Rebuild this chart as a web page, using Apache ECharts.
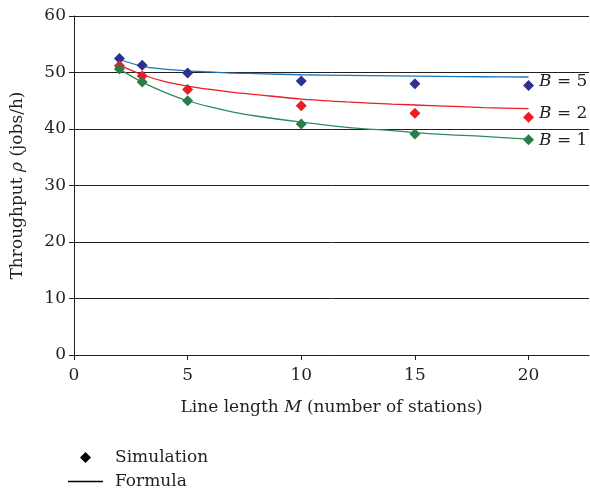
<!DOCTYPE html>
<html>
<head>
<meta charset="utf-8">
<script src="https://cdn.jsdelivr.net/npm/echarts@6/dist/echarts.min.js"></script>
<style>html,body{margin:0;padding:0;background:#fff}#c{width:590px;height:496px}</style>
</head>
<body>
<div id="c"></div>
<script>
const M = [2, 3, 5, 10, 15, 20];
const simB5 = [52.5, 51.3, 49.9, 48.5, 48.0, 47.7];
const simB2 = [51.2, 49.4, 47.0, 44.1, 42.8, 42.1];
const simB1 = [50.6, 48.3, 45.0, 40.9, 39.1, 38.1];
const formM = [2, 3, 4, 5, 6, 7, 8, 10, 12, 14, 16, 18, 20];
const formB5 = [52.3, 51.1, 50.6, 50.3, 50.1, 49.9, 49.8, 49.6, 49.5, 49.4, 49.3, 49.25, 49.2];
const formB2 = [51.3, 49.6, 48.4, 47.6, 47.0, 46.5, 46.1, 45.3, 44.8, 44.4, 44.1, 43.8, 43.6];
const formB1 = [50.6, 48.3, 46.5, 45.0, 43.9, 43.0, 42.3, 41.2, 40.3, 39.7, 39.1, 38.7, 38.2];
const xTicks = [0, 5, 10, 15, 20];
const yTicks = [0, 10, 20, 30, 40, 50, 60];
const seriesLabels = ['5', '2', '1'];

const FONT = '"DejaVu Serif", "Liberation Serif", serif';
const FS = 17;
const TXT = '#231f20';
const pair = (xs, ys) => xs.map((x, i) => [x, ys[i]]);

function simSeries(vals, color, labelText, dy) {
  const data = pair(M, vals).map((p, i, arr) => {
    if (i === arr.length - 1) {
      return {
        value: p,
        label: {
          show: true, position: 'right', distance: 5, offset: [0, dy],
          formatter: '{i|B} = ' + labelText,
          color: TXT, fontFamily: FONT, fontSize: FS,
          rich: { i: { fontStyle: 'italic', fontFamily: FONT, fontSize: FS, color: TXT } }
        }
      };
    }
    return { value: p };
  });
  return {
    type: 'scatter', symbol: 'diamond', symbolSize: 11,
    itemStyle: { color: color, opacity: 1 }, data: data, z: 5, silent: true
  };
}
function formSeries(vals, color) {
  return {
    type: 'line', data: pair(formM, vals), smooth: 0.3,
    showSymbol: false, lineStyle: { color: color, width: 1.3 }, z: 4, silent: true
  };
}

const chart = echarts.init(document.getElementById('c'), null, { renderer: 'canvas' });
chart.setOption({
  animation: false,
  backgroundColor: '#fff',
  grid: { left: 74, right: 1, top: 16, bottom: 141 },
  xAxis: {
    type: 'value', min: 0, max: 22.66,
    name: 'Line length {i|M} (number of stations)',
    nameLocation: 'middle', nameGap: 44,
    nameTextStyle: {
      color: TXT, fontFamily: FONT, fontSize: FS,
      rich: { i: { fontStyle: 'italic', fontFamily: FONT, fontSize: FS, color: TXT } }
    },
    axisLine: { show: true, lineStyle: { color: '#231f20', width: 1 } },
    axisTick: { show: true, inside: false, length: 5, customValues: xTicks, lineStyle: { color: '#231f20' } },
    axisLabel: { customValues: xTicks, margin: 12, color: TXT, fontFamily: FONT, fontSize: FS },
    splitLine: { show: false }
  },
  yAxis: {
    type: 'value', min: 0, max: 60, interval: 10,
    name: 'Throughput {i|ρ} (jobs/h)',
    nameLocation: 'middle', nameGap: 48, nameRotate: 90,
    nameTextStyle: {
      color: TXT, fontFamily: FONT, fontSize: FS,
      rich: { i: { fontStyle: 'italic', fontFamily: FONT, fontSize: FS, color: TXT } }
    },
    axisLine: { show: true, lineStyle: { color: '#231f20', width: 1 } },
    axisTick: { show: true, inside: false, length: 5, customValues: yTicks, lineStyle: { color: '#231f20' } },
    axisLabel: { customValues: yTicks, margin: 8, color: TXT, fontFamily: FONT, fontSize: FS },
    splitLine: { show: true, lineStyle: { color: '#231f20', width: 1 } }
  },
  legend: [
    {
      data: [{ name: 'Simulation', icon: 'diamond' }],
      left: 75, top: 444, itemWidth: 11, itemHeight: 11,
      textStyle: { color: TXT, fontFamily: FONT, fontSize: FS, padding: [0, 0, 0, 19] },
      selectedMode: false
    },
    {
      data: [{ name: 'Formula', icon: 'rect' }],
      left: 63, top: 468, itemWidth: 35, itemHeight: 1.3,
      textStyle: { color: TXT, fontFamily: FONT, fontSize: FS, padding: [0, 0, 0, 7] },
      selectedMode: false
    }
  ],
  series: [
    formSeries(formB5, '#1c75bc'),
    formSeries(formB2, '#ed1c24'),
    formSeries(formB1, '#2e8b57'),
    simSeries(simB5, '#2e3192', seriesLabels[0], -4),
    simSeries(simB2, '#ed1c24', seriesLabels[1], -4),
    simSeries(simB1, '#2a7d4a', seriesLabels[2], 1),
    { name: 'Simulation', type: 'scatter', symbol: 'diamond', itemStyle: { color: '#000', opacity: 1 }, data: [] },
    { name: 'Formula', type: 'line', itemStyle: { color: '#000' }, lineStyle: { color: '#000' }, data: [] }
  ]
});
</script>
</body>
</html>
